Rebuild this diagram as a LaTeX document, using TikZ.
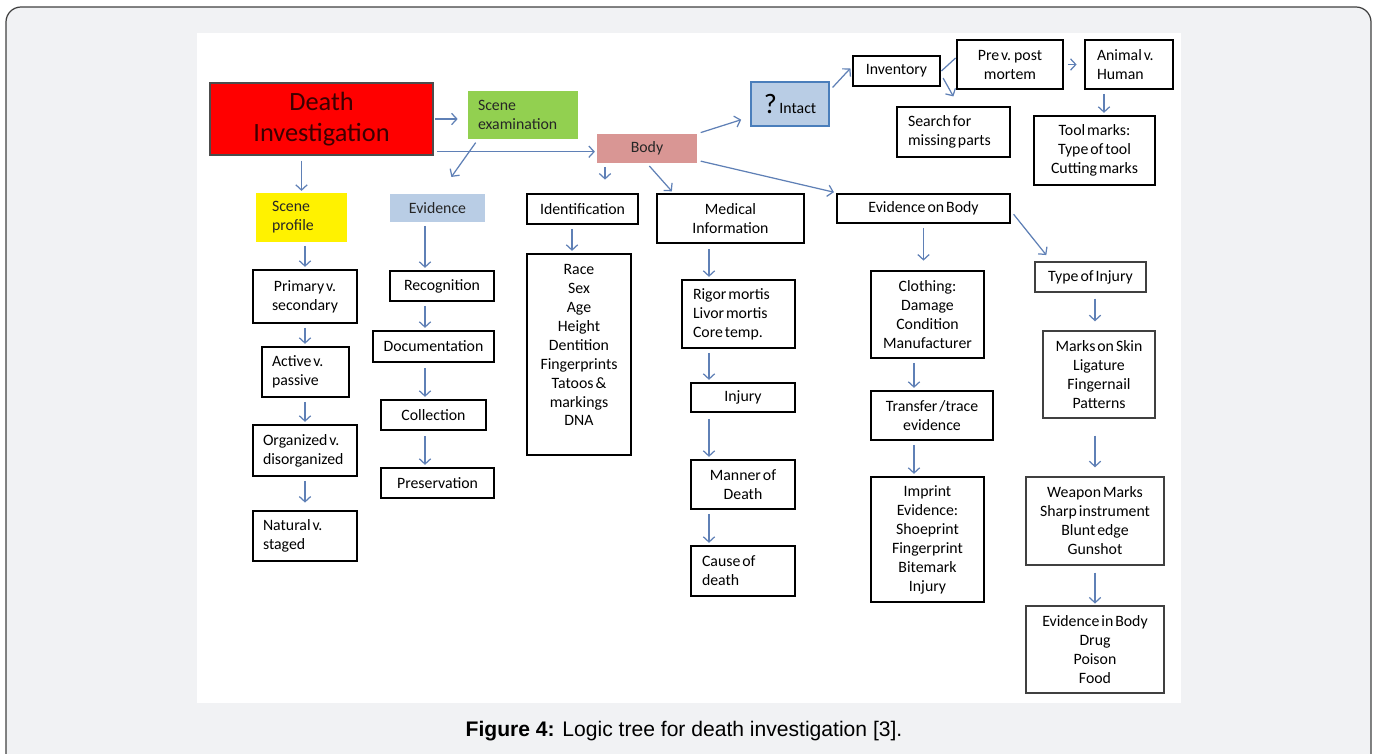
\documentclass[tikz,border=0pt]{standalone}
\usepackage{fontspec}
\setmainfont[WordSpace=0.55]{Carlito}
\newfontfamily\capfont{Liberation Sans}
\usetikzlibrary{arrows.meta}
\definecolor{framegray}{HTML}{F1F2F4}
\definecolor{arrblue}{RGB}{95,128,182}
\definecolor{scgreen}{HTML}{92D050}
\definecolor{evblue}{HTML}{B9CDE5}
\definecolor{bodypink}{HTML}{D99694}
\definecolor{intblue}{HTML}{4A7EBB}
\definecolor{deathtext}{RGB}{60,0,0}

\begin{document}
\begin{tikzpicture}[
  x=0.02cm, y=-0.02cm,
  font=\fontsize{9}{10.8}\selectfont,
  box/.style={draw,line width=1.6pt,fill=white,align=center,inner sep=0pt},
  thin/.style={draw=black!75,line width=0.8pt,fill=white,align=center,inner sep=0pt},
  flat/.style={align=center,inner sep=0pt,text=black!85},
  arr/.style={-{Straight Barb[length=3pt,width=6.5pt]},draw=arrblue,line width=0.7pt,shorten <=2pt,shorten >=1pt}
]
\clip (0,0) rectangle (1377,754);
\draw[fill=framegray,draw=black!75,line width=0.7pt,rounded corners=0.3cm] (6,7) rectangle (1371,800);
\fill[white] (197,33) rectangle (1181,703);

\coordinate (colB) at (425,0);
\coordinate (colI) at (572,0);
\coordinate (colM) at (709,0);
\coordinate (colE) at (914,0);
\coordinate (colR) at (1095,0);

\node[draw=black!70,line width=0.8pt,fill=red,minimum width=4.46cm,minimum height=1.44cm,align=center,
  font=\fontsize{15}{17.6}\selectfont,text=deathtext] (dinv) at (321.5,119) {Death\\Investigation};
\node[flat,fill=scgreen,align=flush left,text width=1.8cm,inner xsep=0.2cm,minimum height=0.96cm] (sexam) at (523,115) {Scene\\examination};
\node[flat,fill=bodypink,minimum width=2cm,minimum height=0.58cm] (body) at (647,148.5) {Body};
\node[draw=intblue,line width=1.4pt,fill=evblue,minimum width=1.56cm,minimum height=0.88cm,inner sep=0pt] (intact) at (790,104)
  {{\fontsize{16}{16}\selectfont ?}\,Intact};
\node[box,minimum width=1.74cm,minimum height=0.6cm] (inv) at (896.5,71) {Inventory};
\node[box,minimum width=2.12cm,minimum height=0.98cm] (prepost) at (1010,64.5) {Pre v. post\\mortem};
\node[box,align=flush left,text width=1.28cm,inner xsep=0.24cm,minimum height=0.98cm] (animal) at (1129,64.5) {Animal v.\\Human};
\node[box,align=flush left,text width=1.82cm,inner xsep=0.22cm,minimum height=1cm] (search) at (953.5,132) {Search for\\missing parts};
\node[box,minimum width=2.42cm,minimum height=1.38cm] (tool) at (1094.5,150.5) {Tool marks:\\Type of tool\\Cutting marks};

\node[flat,fill=yellow,align=flush left,text width=1.18cm,inner xsep=0.32cm,minimum height=0.98cm] (sprof) at (301.5,217.5) {Scene\\profile};
\node[flat,fill=evblue,minimum width=1.9cm,minimum height=0.56cm] (evid) at (437.5,208) {Evidence};
\node[box,minimum width=2.22cm,minimum height=0.6cm] (ident) at (582.5,209) {Identification};
\node[box,minimum width=2.94cm,minimum height=0.98cm] (medinf) at (730.5,218.5) {Medical\\Information};
\node[box,minimum width=3.46cm,minimum height=0.58cm] (evbody) at (923.5,208.5) {Evidence on Body};
\node[thin,minimum width=2.22cm,minimum height=0.6cm] (tinj) at (1090.5,277) {Type of Injury};

\node[box,minimum width=2.08cm,minimum height=1.06cm] (prim) at (305,296.5) {Primary v.\\secondary};
\node[box,align=flush left,text width=1.34cm,inner xsep=0.2cm,minimum height=1cm] (activ) at (305.5,372) {Active v.\\passive};
\node[box,align=flush left,text width=1.68cm,inner xsep=0.2cm,minimum height=1.02cm] (organ) at (305,450.5) {Organized v.\\disorganized};
\node[box,align=flush left,text width=1.68cm,inner xsep=0.2cm,minimum height=1cm] (natur) at (305,536) {Natural v.\\staged};

\node[box,minimum width=2.08cm,minimum height=0.6cm] (recog) at (442,286) {Recognition};
\node[box,minimum width=2.42cm,minimum height=0.62cm] (docu) at (433.5,346.5) {Documentation};
\node[box,minimum width=2.1cm,minimum height=0.6cm] (collec) at (433.5,415) {Collection};
\node[box,minimum width=2.26cm,minimum height=0.6cm] (preser) at (437.5,483) {Preservation};

\node[box,minimum width=2.08cm,minimum height=4.02cm,text depth=0.38cm] (idlist) at (579,354.5)
  {Race\\Sex\\Age\\Height\\Dentition\\Fingerprints\\Tatoos \&\\markings\\DNA};

\node[box,align=flush left,text width=1.82cm,inner xsep=0.22cm,minimum height=1.36cm] (rigor) at (738.5,314) {Rigor mortis\\Livor mortis\\Core temp.};
\node[box,minimum width=2.08cm,minimum height=0.58cm] (injury) at (743,397.5) {Injury};
\node[box,minimum width=2.08cm,minimum height=0.98cm] (manner) at (743,484.5) {Manner of\\Death};
\node[box,align=flush left,text width=1.64cm,inner xsep=0.22cm,minimum height=1cm] (cause) at (743,571) {Cause of\\death};

\node[box,minimum width=2.26cm,minimum height=1.74cm] (cloth) at (927.5,314.5) {Clothing:\\Damage\\Condition\\Manufacturer};
\node[box,minimum width=2.44cm,minimum height=0.98cm] (trans) at (932,415.5) {Transfer /trace\\evidence};
\node[box,minimum width=2.26cm,minimum height=2.5cm] (imprint) at (927.5,539.5) {Imprint\\Evidence:\\Shoeprint\\Fingerprint\\Bitemark\\Injury};

\node[thin,minimum width=2.24cm,minimum height=1.74cm] (marks) at (1099,374.5) {Marks on Skin\\Ligature\\Fingernail\\Patterns};
\node[thin,minimum width=2.76cm,minimum height=1.76cm] (weapon) at (1095,521) {Weapon Marks\\Sharp instrument\\Blunt edge\\Gunshot};
\node[thin,minimum width=2.76cm,minimum height=1.74cm] (evinbody) at (1095,649.5) {Evidence in Body\\Drug\\Poison\\Food};

\node[font=\capfont\fontsize{12}{14}\selectfont] (cap) at (684,731) {\textbf{Figure 4:} Logic tree for death investigation [3].};

\draw[arr,shorten <=1pt,shorten >=0.2cm] (dinv.east) -- (dinv.east -| sexam.west);
\draw[arr] ([yshift=0.08cm]dinv.south east) -- ([yshift=0.08cm]dinv.south east -| body.west);
\draw[arr,shorten <=0.1cm] (dinv.south -| sprof.north) -- (sprof.north);
\draw[arr,shorten <=0.08cm,shorten >=0.41cm] ([xshift=-0.9cm]sexam.south) -- ([xshift=0.04cm]evid.north);
\draw[arr,shorten >=0.26cm] ([xshift=-0.84cm]body.south) -- ([xshift=-0.84cm]body.south |- ident.north);
\draw[arr] (body.south) -- ([xshift=-1.15cm]medinf.north);
\draw[arr] ([yshift=0.06cm]body.south east) -- (evbody.north west);
\draw[arr,shorten >=0.18cm] (body.north east) -- ([yshift=-0.26cm]intact.west);
\draw[arr] ([yshift=0.28cm]intact.east) -- ([yshift=0.08cm]inv.west);
\draw[draw=arrblue,line width=0.7pt] (inv.east) -- ([yshift=0.13cm]prepost.west);
\draw[arr,shorten >=0.21cm] ([yshift=-0.08cm]inv.east) -- ([xshift=0.1cm]search.north);
\draw[arr,shorten >=0.14cm] (prepost.east) -- (animal.west);
\draw[arr] ([xshift=-0.5cm]animal.south) -- ([xshift=-0.5cm]animal.south |- tool.north);
\draw[arr,shorten >=0.16cm] ([yshift=-0.06cm]evbody.east) -- ([xshift=0.34cm]tinj.north west);

\draw[arr] (sprof.south -| prim.north) -- (prim.north);
\draw[arr] (prim.south) -- (activ.north -| prim.south);
\draw[arr] (activ.south -| prim.south) -- (organ.north);
\draw[arr,shorten >=0.14cm] (organ.south) -- (natur.north);

\draw[arr] (evid.south -| colB) -- (recog.north -| colB);
\draw[arr] (recog.south -| colB) -- (docu.north -| colB);
\draw[arr,shorten <=0.1cm] (docu.south -| colB) -- (collec.north -| colB);
\draw[arr,shorten <=0.1cm] (collec.south -| colB) -- (preser.north -| colB);

\draw[arr] (ident.south -| colI) -- (idlist.north -| colI);

\draw[arr,shorten <=0.1cm] (medinf.south -| colM) -- (rigor.north -| colM);
\draw[arr] (rigor.south -| colM) -- (injury.north -| colM);
\draw[arr,shorten <=0.12cm] (injury.south -| colM) -- (manner.north -| colM);
\draw[arr] (manner.south -| colM) -- (cause.north -| colM);

\draw[arr,shorten >=0.18cm] (evbody.south) -- (evbody.south |- cloth.north);
\draw[arr] (cloth.south -| colE) -- (trans.north -| colE);
\draw[arr] (trans.south -| colE) -- (imprint.north -| colE);

\draw[arr,shorten <=0.12cm,shorten >=0.18cm] (tinj.south -| colR) -- (marks.north -| colR);
\draw[arr,shorten <=0.34cm,shorten >=0.18cm] (marks.south -| colR) -- (weapon.north -| colR);
\draw[arr,shorten <=0.14cm] (weapon.south -| colR) -- (evinbody.north -| colR);
\end{tikzpicture}
\end{document}
